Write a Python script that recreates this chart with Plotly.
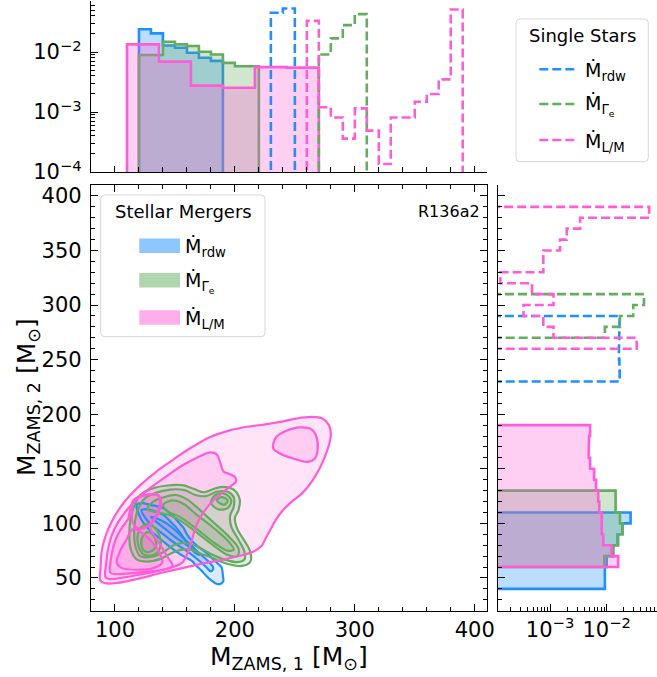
import plotly.graph_objects as go

W, H = 657, 677

# ---------------- histogram data (density per bin) ----------------
# M_ZAMS,1 : stellar mergers
m1_rdw_edges = [120, 130, 140, 150, 160, 170, 180, 190]
m1_rdw = [0.0240, 0.0204, 0.0128, 0.0118, 0.0097, 0.0080, 0.0071]
m1_gam_edges = [120, 130, 140, 150, 160, 170, 180, 190, 200, 210, 220]
m1_gam = [0.0089, 0.0089, 0.0148, 0.0134, 0.0126, 0.0101, 0.0091, 0.0066, 0.0058, 0.0058]
m1_lm_edges = [110, 136.67, 163.33, 190, 216.67, 243.33, 270]
m1_lm = [0.0134, 0.0069, 0.00275, 0.00254, 0.0056, 0.0055]

# M_ZAMS,1 : single stars
s1_rdw_edges = [230, 240, 250]
s1_rdw = [0.045, 0.053]
s1_gam_edges = [270, 280, 290, 300, 310]
s1_gam = [0.0091, 0.0169, 0.0280, 0.0427]
s1_lm_edges = [260, 270, 280, 290, 300, 310, 320, 330, 340, 350, 360, 370, 380, 390]
s1_lm = [0.033, 0.0012, 0.00081, 0.00036, 0.00115, 0.00049, 0.000136,
         0.00081, 0.00081, 0.00148, 0.0020, 0.0035, 0.051]

# M_ZAMS,2 : stellar mergers
m2_rdw_edges = [40, 50, 60, 70, 80, 90, 100, 110]
m2_rdw = [0.0093, 0.0093, 0.0100, 0.0130, 0.0156, 0.0190, 0.0265]
m2_gam_edges = [60, 70, 80, 90, 100, 110, 120, 130]
m2_gam = [0.0091, 0.0131, 0.0160, 0.0190, 0.0172, 0.0144, 0.0144]
m2_lm_edges = [60, 70, 80, 90, 100, 110, 120, 130, 140, 150, 160, 170, 180, 190]
m2_lm = [0.0160, 0.0122, 0.0087, 0.0082, 0.0082, 0.0074, 0.0071,
         0.0065, 0.0060, 0.0051, 0.0048, 0.0049, 0.0051]

# M_ZAMS,2 : single stars
s2_rdw_edges = [230, 240, 250, 260, 270, 280, 290]
s2_rdw = [0.0170, 0.0168, 0.0165, 0.0165, 0.0167, 0.0170]
s2_gam_edges = [270, 280, 290, 300, 310]
s2_gam = [0.0093, 0.0172, 0.0295, 0.0457]
s2_lm_edges = [260, 270, 280, 290, 300, 310, 320, 330, 340, 350, 360, 370, 380, 390]
s2_lm = [0.034, 0.00115, 0.00076, 0.00034, 0.00115, 0.00048, 0.000132,
         0.00076, 0.00076, 0.0015, 0.00197, 0.0034, 0.0564]

# ---------------- KDE iso-density contours (M1, M2) ----------------
rdw_contours = [
    [(118, 117), (120, 108), (124, 100), (130, 93), (136, 87.3), (143, 81), (150, 75.1),
     (157, 70), (163.9, 65.9), (168, 61), (172.2, 56.7), (176, 52), (180.6, 47.5), (184, 45),
     (187.5, 44.4), (190.3, 47), (190, 52), (188.9, 59.8), (186, 63), (183.3, 65.9), (179, 70),
     (175, 74), (169, 79), (164, 84), (160, 90), (157, 96), (153, 101), (150, 105),
     (146, 109), (143, 112), (139, 114.5), (134, 116), (129, 117), (123, 118.5)],
    [(122, 112), (126, 104), (131, 98), (138, 92), (146, 85), (154, 79), (162, 73), (170, 66),
     (176, 60), (180, 56), (182, 59), (178, 65), (172, 71), (165, 78), (158, 86), (152, 95),
     (146, 102), (140, 108), (133, 111), (126, 113)],
    [(130, 106), (136, 100), (144, 93), (152, 86), (160, 80), (167, 73), (170, 71), (166, 77),
     (159, 84), (151, 93), (143, 100), (136, 104)],
]

gam_contours = [
    [(112, 92), (113, 104), (116, 116), (121, 126), (130, 131.5), (142, 134.5), (156, 135),
     (166, 131.5), (174, 128.5), (181, 131), (189, 133.5), (199, 131), (204, 122), (203, 112),
     (200, 105), (202, 95), (208, 84), (212.5, 75), (213, 65), (206, 61), (192, 63.5), (181, 68.5),
     (172, 72), (163, 76), (154, 75.5), (146, 72), (138, 67.5), (127, 65), (118, 67), (113, 77)],
    [(116, 92), (117, 104), (120, 115), (125, 123), (134, 128), (146, 131), (158, 130.5),
     (167, 126), (176, 125), (185, 129), (194, 129), (199, 124), (199, 115), (196, 107), (197, 97),
     (203, 85), (208, 74), (208, 67), (202, 64.5), (191, 67), (180, 72), (168, 79), (158, 82),
     (149, 80), (141, 74), (131, 69.5), (121, 70), (117, 79)],
    [(119, 82), (120, 93), (125, 99), (132, 97), (137, 89), (138, 79), (133, 71.5), (124, 71.5)],
    [(127, 113), (132, 120), (141, 124), (151, 126), (160, 122), (170, 113), (182, 101), (194, 89),
     (203, 77), (202, 70), (194, 71), (183, 79), (170, 90), (158, 100), (147, 107), (136, 110)],
    [(180, 119), (184, 126), (192, 127), (197, 121), (194, 114), (186, 113)],
    [(122, 80), (123, 88), (128, 92), (133, 87), (134, 79), (129, 74), (124, 75)],
    [(140, 117), (148, 121), (157, 118), (168, 108), (182, 96), (195, 83), (199, 76), (194, 75),
     (183, 82), (168, 95), (154, 106), (144, 111)],
    [(185, 121), (189, 124), (194, 121), (191, 117)],
]

lm_contours = [
    [(88, 47), (88, 60), (89, 75), (92, 88), (97, 101), (104, 114), (112, 125), (122, 136),
     (134, 147), (148, 158), (163, 169), (179, 179), (195, 185), (210, 188.5), (224, 190.5),
     (238, 193), (251, 196), (264, 197.5), (273, 196), (278.5, 190), (280, 182), (278.5, 172),
     (275, 161), (270.5, 150), (264, 138), (256, 127.5), (247, 119.5), (240, 112), (234, 103),
     (230, 95), (226, 87), (222, 79), (214, 73.5), (193, 67.5), (168, 62), (140, 55), (118, 49),
     (102, 45.5), (93, 45)],
    [(232, 168.6), (232, 173), (234.7, 179.3), (243, 184.8), (254.2, 187.9), (264, 186),
     (268, 179.3), (269, 167), (266.7, 159.4), (261, 156.3), (248.6, 159.4), (237.5, 164)],
    [(92, 51), (92.5, 62), (94, 75), (97, 88), (102, 100), (109, 111), (118, 122), (130, 133),
     (144, 144), (156, 153), (168, 160), (180, 165), (185, 163), (188, 155), (190.5, 147.5),
     (196, 145), (200, 142.5), (201, 138.5), (197, 134.5), (190, 128.5), (182, 121), (175, 112),
     (170, 103), (166.5, 94), (164, 84), (161, 74), (156, 64), (142, 58), (118, 52.5),
     (102, 49.5), (95, 49)],
    [(96, 55), (96.5, 66), (98.5, 78), (102, 89), (107, 98), (111, 104), (112.5, 112), (115, 120),
     (121, 125), (128, 126.5), (136, 126), (138.5, 119), (136.5, 110), (132, 102), (129, 97),
     (132, 90), (138, 80), (144, 69), (148, 61), (140, 57.5), (125, 55.5), (110, 54), (100, 53.5)],
    [(101.5, 64), (104, 74), (109, 84), (115.3, 95), (123.6, 90.4), (131, 83), (136.1, 75.1),
     (139.5, 64), (132, 59), (118, 57.5), (106, 59)],
    [(113.9, 111.8), (115.3, 121), (125, 125.6), (136.1, 125.6), (137.5, 118), (133.3, 105.7),
     (127.8, 98), (120.8, 95), (115.3, 99.6)],
]

# ---------------- styling ----------------
BLUE = "#1E90FF"
GREEN = "#62AD5E"
PINK = "#FF5CD8"
RGB = {BLUE: (30, 144, 255), GREEN: (98, 173, 94), PINK: (255, 92, 216)}
FONT = "DejaVu Sans"
FLOOR = 1e-7


def rgba(c, a):
    r, g, b = RGB[c]
    return f"rgba({r},{g},{b},{a})"


def steps(edges, vals):
    """Outline of a step histogram, closed down to FLOOR at both ends."""
    pos, val = [edges[0]], [FLOOR]
    for i, v in enumerate(vals):
        pos += [edges[i], edges[i + 1]]
        val += [v, v]
    pos.append(edges[-1])
    val.append(FLOOR)
    return pos, val


fig = go.Figure()


def hist(edges, vals, color, filled, horizontal):
    a, b = steps(edges, vals)
    xs, ys = (b, a) if horizontal else (a, b)
    fig.add_trace(go.Scatter(
        x=xs, y=ys, xaxis="x3" if horizontal else "x2", yaxis="y3" if horizontal else "y2",
        mode="lines",
        fill="toself" if filled else None,
        fillcolor=rgba(color, 0.3) if filled else None,
        line=dict(color=color, width=2.6, dash=None if filled else "9px,4px"),
        hoverinfo="skip", showlegend=False))


def closed(poly):
    return [p[0] for p in poly] + [poly[0][0]], [p[1] for p in poly] + [poly[0][1]]


def contour_fills(polys, color):
    for poly in polys:
        xs, ys = closed(poly)
        fig.add_trace(go.Scatter(
            x=xs, y=ys, mode="lines", fill="toself", fillcolor=rgba(color, 0.17),
            line=dict(color=color, width=0, shape="spline", smoothing=1.0),
            hoverinfo="skip", showlegend=False))


def contour_lines(polys, color):
    for poly in polys:
        xs, ys = closed(poly)
        fig.add_trace(go.Scatter(
            x=xs, y=ys, mode="lines",
            line=dict(color=color, width=2.2, shape="spline", smoothing=1.0),
            hoverinfo="skip", showlegend=False))


# main panel: filled KDE levels, then the iso-density lines on top
for polys, c in ((rdw_contours, BLUE), (gam_contours, GREEN), (lm_contours, PINK)):
    contour_fills(polys, c)
for polys, c in ((rdw_contours, BLUE), (gam_contours, GREEN), (lm_contours, PINK)):
    contour_lines(polys, c)

# top panel: M1 marginals; right panel: M2 marginals
for horiz, sets in (
    (False, [(m1_rdw_edges, m1_rdw, BLUE, True), (m1_gam_edges, m1_gam, GREEN, True),
             (m1_lm_edges, m1_lm, PINK, True), (s1_rdw_edges, s1_rdw, BLUE, False),
             (s1_gam_edges, s1_gam, GREEN, False), (s1_lm_edges, s1_lm, PINK, False)]),
    (True, [(m2_rdw_edges, m2_rdw, BLUE, True), (m2_gam_edges, m2_gam, GREEN, True),
            (m2_lm_edges, m2_lm, PINK, True), (s2_rdw_edges, s2_rdw, BLUE, False),
            (s2_gam_edges, s2_gam, GREEN, False), (s2_lm_edges, s2_lm, PINK, False)]),
):
    for e, v, c, f in sets:
        hist(e, v, c, f, horiz)

# ---------------- axes ----------------
def X(p):
    return p / W


def Y(p):
    return 1 - p / H


main_x_dom = [X(91), X(486.7)]
main_y_dom = [Y(610.7), Y(185)]
tickfont = dict(family=FONT, size=21, color="black")
axcommon = dict(showgrid=False, zeroline=False, showline=True, linecolor="black",
                linewidth=1.3, ticks="inside", tickcolor="black", tickwidth=1.3,
                tickfont=tickfont)

log_minor = [m * 10.0 ** e for e in (-4, -3, -2, -1) for m in range(2, 10)]
sup = {1e-4: "10<sup>\u22124</sup>", 1e-3: "10<sup>\u22123</sup>", 1e-2: "10<sup>\u22122</sup>"}

fig.update_layout(
    width=W, height=H, margin=dict(l=0, r=0, t=0, b=0),
    paper_bgcolor="white", plot_bgcolor="rgba(0,0,0,0)",
    showlegend=False,
    xaxis=dict(domain=main_x_dom, range=[80, 410], anchor="y", mirror="ticks",
               tickvals=[100, 200, 300, 400], ticklen=7,
               minor=dict(dtick=20, tick0=0, ticks="inside", ticklen=4, tickcolor="black"),
               automargin=False, **axcommon),
    yaxis=dict(domain=main_y_dom, range=[20, 410], anchor="x", mirror="ticks",
               tickvals=[50, 100, 150, 200, 250, 300, 350, 400], ticklen=7,
               ticklabelstandoff=4,
               minor=dict(dtick=10, tick0=0, ticks="inside", ticklen=4, tickcolor="black"),
               automargin=False, **axcommon),
    xaxis2=dict(domain=main_x_dom, range=[80, 410], anchor="y2", showticklabels=False,
                tickvals=[100, 200, 300, 400], ticklen=6,
                minor=dict(dtick=20, tick0=0, ticks="inside", ticklen=5, tickcolor="black"),
                automargin=False, **axcommon),
    yaxis2=dict(domain=[Y(172), Y(1)], type="log", range=[-4, -1.15], anchor="x2",
                tickvals=list(sup.keys()), ticktext=list(sup.values()), ticklen=7,
                ticklabelstandoff=4,
                minor=dict(tickvals=log_minor, ticks="inside", ticklen=4, tickcolor="black"),
                automargin=False, **axcommon),
    xaxis3=dict(domain=[X(498), 1.0], type="log", range=[-3.92, -1.11], anchor="y3",
                tickvals=[1e-3, 1e-2], ticktext=[sup[1e-3], sup[1e-2]], ticklen=7,
                minor=dict(tickvals=log_minor, ticks="inside", ticklen=4, tickcolor="black"),
                automargin=False, **axcommon),
    yaxis3=dict(domain=main_y_dom, range=[20, 410], anchor="x3", showticklabels=False,
                tickvals=[50, 100, 150, 200, 250, 300, 350, 400], ticklen=7,
                minor=dict(dtick=10, tick0=0, ticks="inside", ticklen=4, tickcolor="black"),
                automargin=False, **axcommon),
)

# ---------------- legends, labels ----------------
shapes, annotations = [], []


def rounded_box(x0, y0, x1, y1, r=4):
    pts = [
        f"M{X(x0 + r)},{Y(y0)}", f"L{X(x1 - r)},{Y(y0)}", f"Q{X(x1)},{Y(y0)} {X(x1)},{Y(y0 + r)}",
        f"L{X(x1)},{Y(y1 - r)}", f"Q{X(x1)},{Y(y1)} {X(x1 - r)},{Y(y1)}",
        f"L{X(x0 + r)},{Y(y1)}", f"Q{X(x0)},{Y(y1)} {X(x0)},{Y(y1 - r)}",
        f"L{X(x0)},{Y(y0 + r)}", f"Q{X(x0)},{Y(y0)} {X(x0 + r)},{Y(y0)}", "Z"]
    shapes.append(dict(type="path", xref="paper", yref="paper", path=" ".join(pts),
                       line=dict(color="#d6d6d6", width=1),
                       fillcolor="rgba(255,255,255,0.85)", layer="above"))


def text(x, y, s, size, anchor="left", **kw):
    annotations.append(dict(x=X(x), y=Y(y), xref="paper", yref="paper", text=s,
                            showarrow=False, xanchor=anchor, yanchor="middle",
                            font=dict(family=FONT, size=size, color="black"), **kw))


labels = ["\u1e40<sub>rdw</sub>", "\u1e40<sub>\u0393<sub>e</sub></sub>", "\u1e40<sub>L/M</sub>"]
colors = [BLUE, GREEN, PINK]

# stellar mergers legend (inside main panel)
rounded_box(100.7, 195, 265, 336.7)
text(183, 212, "Stellar Mergers", 18, anchor="center")
for i, (lab, c) in enumerate(zip(labels, colors)):
    yc = [245.7, 280.3, 317.5][i]
    shapes.append(dict(type="rect", xref="paper", yref="paper", x0=X(139.3), x1=X(180),
                       y0=Y(yc + 7.2), y1=Y(yc - 7.2), line=dict(width=0),
                       fillcolor=rgba(c, 0.5), layer="above"))
    text(183, yc + 2, lab, 19)

# single stars legend (top right corner)
rounded_box(516, 19, 648.3, 161.7)
text(582, 36, "Single Stars", 18, anchor="center")
for i, (lab, c) in enumerate(zip(labels, colors)):
    yc = [69.3, 104, 140][i]
    shapes.append(dict(type="line", xref="paper", yref="paper", x0=X(539.3), x1=X(576.7),
                       y0=Y(yc), y1=Y(yc), line=dict(color=c, width=2.6, dash="9px,4px"),
                       layer="above"))
    text(583, yc + 2, lab, 19)

text(449, 212, "R136a2", 16, anchor="center")

# axis titles
text(288.5, 658, "M<sub>ZAMS, 1</sub> [M<sub>\u2299</sub>]", 25, anchor="center")
text(28, 397, "M<sub>ZAMS, 2</sub> [M<sub>\u2299</sub>]", 25, anchor="center", textangle=-90)

fig.update_layout(shapes=shapes, annotations=annotations)
fig.write_html("out.html")
